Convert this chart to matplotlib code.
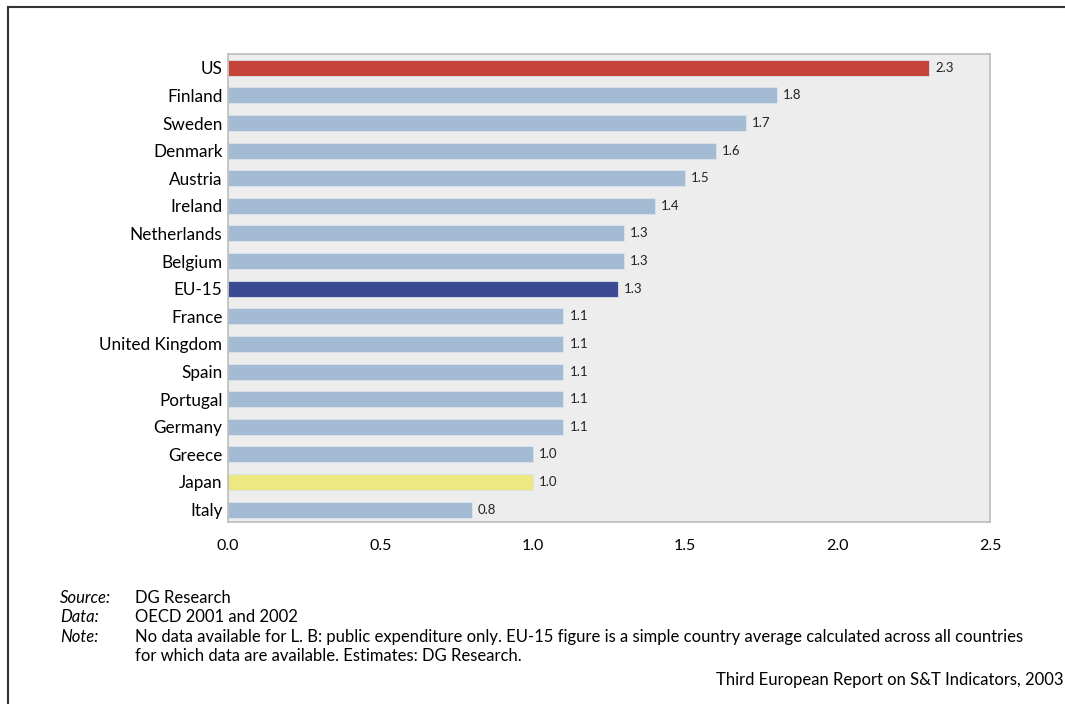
import matplotlib.pyplot as plt
from matplotlib.lines import Line2D

countries = ["US", "Finland", "Sweden", "Denmark", "Austria", "Ireland",
             "Netherlands", "Belgium", "EU-15", "France", "United Kingdom",
             "Spain", "Portugal", "Germany", "Greece", "Japan", "Italy"]
values = [2.3, 1.8, 1.7, 1.6, 1.5, 1.4, 1.3, 1.3, 1.28, 1.1, 1.1,
          1.1, 1.1, 1.1, 1.0, 1.0, 0.8]
labels = ["2.3", "1.8", "1.7", "1.6", "1.5", "1.4", "1.3", "1.3", "1.3",
          "1.1", "1.1", "1.1", "1.1", "1.1", "1.0", "1.0", "0.8"]
xticks = [0.0, 0.5, 1.0, 1.5, 2.0, 2.5]

special = {"US": "#C4443A", "EU-15": "#3C4A93", "Japan": "#EDE980"}
colors = [special.get(c, "#A3BBD3") for c in countries]

plt.rcParams['font.family'] = ['Lato', 'DejaVu Sans']

fig = plt.figure(figsize=(10.65, 7.04), dpi=100)
ax = fig.add_axes([0.2141, 0.2585, 0.7155, 0.6648])
ax.set_facecolor("#EDEDED")

ypos = list(range(len(countries)))
ax.barh(ypos, values, height=0.58, color=colors, edgecolor="#DCE3EC", linewidth=0.6)
for y, v, t in zip(ypos, values, labels):
    ax.text(v + 0.02, y, t, va="center", ha="left", fontsize=9.5, color="#222222")

ax.set_xlim(0, 2.5)
ax.set_ylim(16.45, -0.5)
ax.set_yticks(ypos)
ax.set_yticklabels(countries, fontsize=12.3)
ax.set_xticks(xticks)
ax.set_xticklabels([f"{x:.1f}" for x in xticks], fontsize=11.5)
ax.tick_params(length=0)
ax.tick_params(axis="x", pad=12)
ax.tick_params(axis="y", pad=4)
for s in ax.spines.values():
    s.set_color("#B8B8B8")
    s.set_linewidth(1.1)

# notes below the chart
H = 704.0
notes = [("Source:", "DG Research", 598),
         ("Data:", "OECD 2001 and 2002", 617),
         ("Note:", "No data available for L. B: public expenditure only. EU-15 figure is a simple country average calculated across all countries", 637),
         ("", "for which data are available. Estimates: DG Research.", 656)]
for k, t, y in notes:
    if k:
        fig.text(60 / 1065, 1 - y / H, k, fontsize=12, style="italic", va="center", ha="left")
    fig.text(135 / 1065, 1 - y / H, t, fontsize=12, va="center", ha="left")
fig.text(1064 / 1065, 1 - 680 / H, "Third European Report on S&T Indicators, 2003",
         fontsize=12, va="center", ha="right")

# page frame (left and top edges)
fig.add_artist(Line2D([8 / 1065, 8 / 1065], [0, 1 - 7 / H], color="#333333", lw=1.5))
fig.add_artist(Line2D([8 / 1065, 1], [1 - 7 / H, 1 - 7 / H], color="#333333", lw=1.5))

fig.savefig("out.png", dpi=100)
